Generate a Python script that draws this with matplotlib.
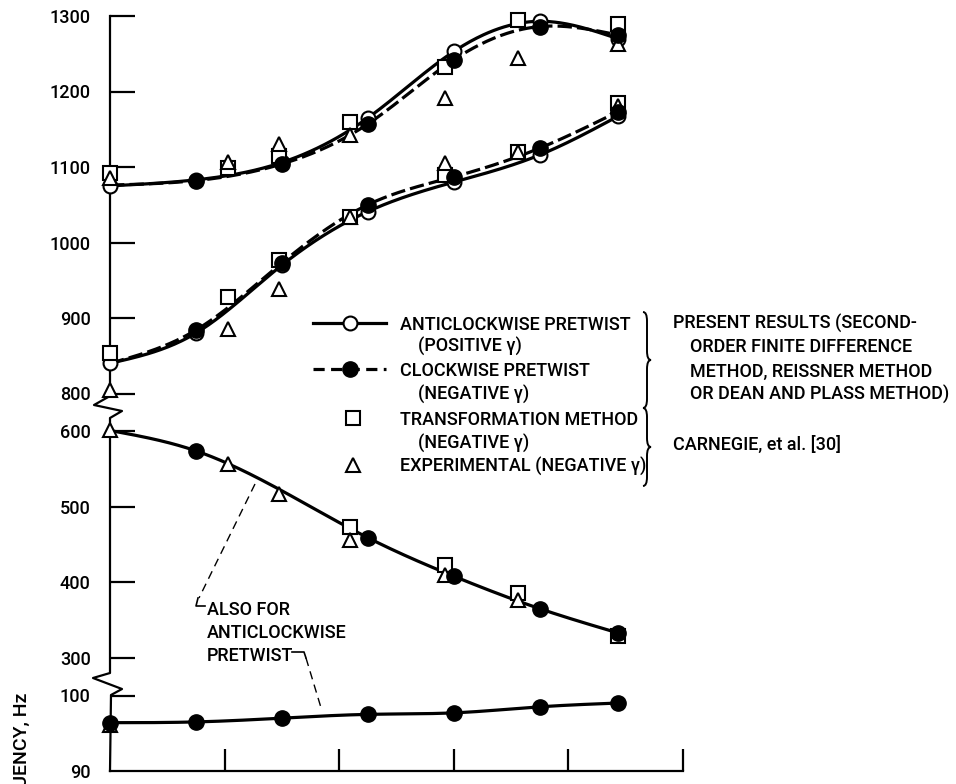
import numpy as np
import matplotlib
matplotlib.use("Agg")
import matplotlib.pyplot as plt
from matplotlib.lines import Line2D
from matplotlib.path import Path
from matplotlib.patches import PathPatch

plt.rcParams["font.family"] = ["Roboto", "DejaVu Sans"]
plt.rcParams["font.weight"] = "medium"

# ---------------------------------------------------------------- data
# computed points (second-order finite difference) at these stations
x_calc = [0, 15, 30, 45, 60, 75, 88.6]
# transformation-method and experimental stations
x_meas = [0, 20.6, 29.5, 41.9, 58.5, 71.2, 88.6]

# highest mode
top_anti = [1075, 1083, 1106, 1165, 1253, 1293, 1270]
top_clock = [1076, 1082, 1104, 1157, 1242, 1286, 1275]
top_square = [1092, 1099, 1114, 1159, 1232, 1295, 1289]
top_tri = [1086, 1107, 1130, 1143, 1192, 1245, 1263]

# third mode
mid_anti = [840, 880, 970, 1041, 1080, 1116, 1167]
mid_clock = [840, 884, 973, 1050, 1087, 1125, 1173]
mid_square = [854, 928, 977, 1034, 1090, 1120, 1185]
mid_tri = [805, 885, 939, 1034, 1105, 1120, 1181]

# second mode (same for both pretwist directions)
low_x = [0, 15, 45, 60, 75, 88.6]
low_freq = [601, 574, 459, 408, 365, 333]
low_sq_x = [41.9, 58.5, 71.2, 88.6]
low_square = [473, 423, 386, 329]
low_tri_x = [0, 20.6, 29.5, 41.9, 58.5, 71.2]
low_tri = [606, 557, 517, 456, 410, 376]

# fundamental mode
fund_freq = [96.4, 96.5, 97.0, 97.5, 97.7, 98.5, 99.0]
fund_tri_x = [0]
fund_tri = [96.1]

y_ticks = [90, 100, 300, 400, 500, 600, 800, 900, 1000, 1100, 1200, 1300]
x_ticks = [20, 40, 60, 80, 100]

# broken frequency axis: piecewise-linear scale
Y_BREAKS = np.array([90.0, 100.0, 300.0, 600.0, 800.0, 1300.0])
U_BREAKS = np.array([0.0, 1.0, 1.5, 4.5, 5.0, 10.0])


def _pw(v, xp, fp):
    v = np.asarray(v, dtype=float)
    out = np.interp(v, xp, fp)
    lo = fp[0] + (v - xp[0]) * (fp[1] - fp[0]) / (xp[1] - xp[0])
    hi = fp[-1] + (v - xp[-1]) * (fp[-1] - fp[-2]) / (xp[-1] - xp[-2])
    out = np.where(v < xp[0], lo, out)
    out = np.where(v > xp[-1], hi, out)
    return out


def fwd(v):
    return _pw(v, Y_BREAKS, U_BREAKS)


def inv(u):
    return _pw(u, U_BREAKS, Y_BREAKS)


def spline(xs, ys, n=300):
    """Natural cubic spline through the given points."""
    x = np.asarray(xs, float)
    y = np.asarray(ys, float)
    m = len(x)
    h = np.diff(x)
    A = np.zeros((m, m))
    b = np.zeros(m)
    A[0, 0] = A[-1, -1] = 1.0
    for i in range(1, m - 1):
        A[i, i - 1] = h[i - 1]
        A[i, i] = 2 * (h[i - 1] + h[i])
        A[i, i + 1] = h[i]
        b[i] = 3 * ((y[i + 1] - y[i]) / h[i] - (y[i] - y[i - 1]) / h[i - 1])
    c = np.linalg.solve(A, b)
    bb = (y[1:] - y[:-1]) / h - h * (2 * c[:-1] + c[1:]) / 3
    d = (c[1:] - c[:-1]) / (3 * h)
    xx = np.linspace(x[0], x[-1], n)
    k = np.clip(np.searchsorted(x, xx, side="right") - 1, 0, m - 2)
    t = xx - x[k]
    yy = y[k] + bb[k] * t + c[k] * t ** 2 + d[k] * t ** 3
    return xx, yy


# ---------------------------------------------------------------- figure
W, H = 956, 784
fig = plt.figure(figsize=(W / 100, H / 100), dpi=100)
AX_L, AX_R, AX_T, AX_B = 110, 683, 16, 771
ax = fig.add_axes([AX_L / W, 1 - AX_B / H, (AX_R - AX_L) / W, (AX_B - AX_T) / H])
ax.set_yscale("function", functions=(fwd, inv))
ax.set_xlim(0, 100)
ax.set_ylim(90, 1300)


def fx(px):
    return px / W


def fy(py):
    return 1 - py / H


def axx(px):
    return (px - AX_L) / (AX_R - AX_L)


def axy(py):
    return (AX_B - py) / (AX_B - AX_T)


FS = 13
LW = 2.3
DASH = (0, (4.5, 1.6))
MS_OPEN = 10
MS_FILL = 11
MEW = 1.5

# curves
for xs, ys, ls in [
    (x_calc, top_anti, "-"),
    (x_calc, top_clock, DASH),
    (x_calc, mid_anti, "-"),
    (x_calc, mid_clock, DASH),
    (low_x, low_freq, "-"),
    (x_calc, fund_freq, "-"),
]:
    sx, sy = spline(xs, ys)
    ax.plot(sx, sy, color="black", lw=LW, ls=ls, zorder=2,
            solid_capstyle="round", clip_on=False)

# open circles: anticlockwise pretwist
for ys in (top_anti, mid_anti):
    ax.plot(x_calc, ys, ls="none", marker="o", ms=MS_OPEN, mfc="white",
            mec="black", mew=MEW, zorder=3, clip_on=False)

# squares: transformation method
for xs, ys in [(x_meas, top_square), (x_meas, mid_square), (low_sq_x, low_square)]:
    ax.plot(xs, ys, ls="none", marker="s", ms=MS_OPEN - 0.5, mfc="white",
            mec="black", mew=MEW, zorder=4, clip_on=False)

# triangles: experimental
for xs, ys in [(x_meas, top_tri), (x_meas, mid_tri), (low_tri_x, low_tri),
               (fund_tri_x, fund_tri)]:
    ax.plot(xs, ys, ls="none", marker="^", ms=MS_OPEN, mfc="white",
            mec="black", mew=MEW, zorder=5, clip_on=False)

# filled circles: clockwise pretwist
for xs, ys in [(x_calc[1:], top_clock[1:]), (x_calc[1:], mid_clock[1:]),
               (low_x[1:], low_freq[1:]), (x_calc, fund_freq)]:
    ax.plot(xs, ys, ls="none", marker="o", ms=MS_FILL, mfc="black",
            mec="black", zorder=6, clip_on=False)

# axes styling
for s in ("top", "right", "left"):
    ax.spines[s].set_visible(False)
ax.spines["bottom"].set_linewidth(1.6)
ax.set_yticks(y_ticks)
ax.set_yticklabels([str(t) for t in y_ticks])
ax.tick_params(axis="y", direction="in", length=18, width=1.6, pad=14,
               labelsize=FS)
ax.set_xticks(x_ticks)
ax.set_xticklabels([""] * len(x_ticks))
ax.tick_params(axis="x", direction="in", length=16, width=1.6)
ax.yaxis.get_major_ticks()[0].tick1line.set_visible(False)

# broken vertical axis with zigzags
spine_px = [(110, 16), (110, 396), (94, 405), (122, 411), (110, 418),
            (110, 673), (93, 678), (122, 689), (111, 695), (110, 771)]
ax.add_line(Line2D([axx(p[0]) for p in spine_px], [axy(p[1]) for p in spine_px],
                   transform=ax.transAxes, color="black", lw=1.6,
                   clip_on=False, zorder=2.5))

# y label, running off the lower edge
fig.text(fx(22), fy(693), "FREQUENCY, Hz", rotation=90, ha="center", va="top",
         fontsize=FS + 1)

# ---------------------------------------------------------------- key


def label(px, py, s):
    fig.text(fx(px), fy(py + 7), s, fontsize=FS, ha="left", va="baseline")


def fig_line(xs, ys, **kw):
    fig.add_artist(Line2D([fx(v) for v in xs], [fy(v) for v in ys],
                          transform=fig.transFigure, color="black", **kw))


fig_line([313, 386], [323, 323], lw=LW)
fig_line([350], [323], ls="none", marker="o", ms=MS_OPEN, mfc="white", mew=MEW)
fig_line([313, 386], [369, 369], lw=LW, ls=(0, (3.5, 2.0)))
fig_line([350], [369], ls="none", marker="o", ms=MS_FILL, mfc="black")
fig_line([353], [418], ls="none", marker="s", ms=MS_OPEN - 0.5, mfc="white", mew=MEW)
fig_line([353], [465], ls="none", marker="^", ms=MS_OPEN, mfc="white", mew=MEW)

label(400, 323, "ANTICLOCKWISE PRETWIST")
label(418, 345, "(POSITIVE γ)")
label(400, 369, "CLOCKWISE PRETWIST")
label(418, 393, "(NEGATIVE γ)")
label(400, 418, "TRANSFORMATION METHOD")
label(418, 442, "(NEGATIVE γ)")
label(400, 465, "EXPERIMENTAL (NEGATIVE γ)")

label(673, 322, "PRESENT RESULTS (SECOND-")
label(690, 345, "ORDER FINITE DIFFERENCE")
label(690, 370, "METHOD, REISSNER METHOD")
label(690, 393, "OR DEAN AND PLASS METHOD)")
label(673, 443, "CARNEGIE, et al. [30]")


def brace(x, y0, y1, w=8, r=9):
    ym = (y0 + y1) / 2
    pts = [(x, y0), (x + w / 2, y0), (x + w / 2, y0 + r), (x + w / 2, ym - r),
           (x + w / 2, ym), (x + w, ym), (x + w / 2, ym), (x + w / 2, ym + r),
           (x + w / 2, y1 - r), (x + w / 2, y1), (x, y1)]
    codes = [Path.MOVETO, Path.CURVE3, Path.CURVE3, Path.LINETO,
             Path.CURVE3, Path.CURVE3, Path.CURVE3, Path.CURVE3,
             Path.LINETO, Path.CURVE3, Path.CURVE3]
    path = Path([(fx(a), fy(b)) for a, b in pts], codes)
    fig.add_artist(PathPatch(path, transform=fig.transFigure, fill=False,
                             lw=1.4, ec="black"))


brace(643, 312, 408)
brace(643, 408, 486)

# ---------------------------------------------------------------- notes
label(207, 608, "ALSO FOR")
label(207, 631, "ANTICLOCKWISE")
label(207, 654, "PRETWIST")
fig_line([255, 199], [484, 598], lw=1.0, ls=(0, (6, 4)))
fig_line([198, 196, 205], [598, 606, 606], lw=1.2)
fig_line([292, 304, 306], [652, 652, 658], lw=1.2)
fig_line([306, 322], [658, 711], lw=1.0, ls=(0, (6, 4)))

fig.savefig("out.png", dpi=100)
